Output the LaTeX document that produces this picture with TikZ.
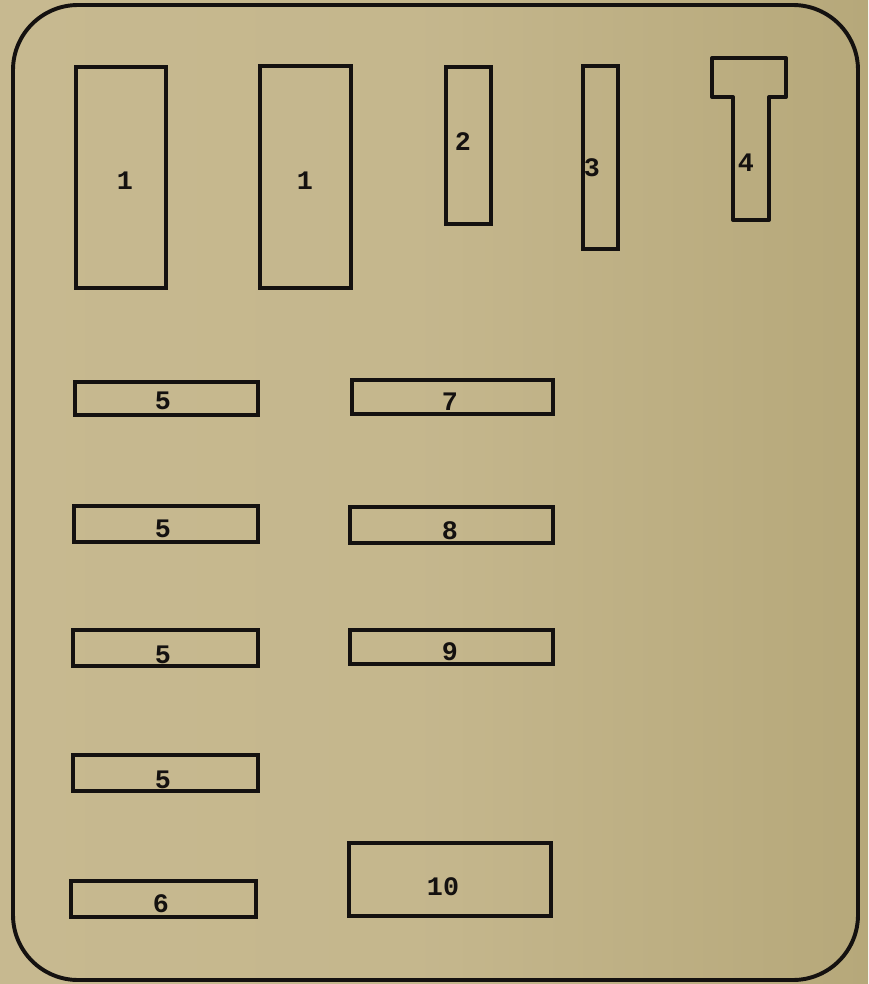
\documentclass[tikz,border=0pt]{standalone}
\usepackage{fontspec}
\setmonofont{Liberation Mono}
\usepackage{xcolor}
\usepackage{tikz}
\usetikzlibrary{fit}
\definecolor{cardTan}{HTML}{C7B990}
\definecolor{cardShade}{HTML}{B6A87A}
\definecolor{cardInk}{HTML}{141110}
\tikzset{
  piece box/.style={draw=cardInk,line width=2.8pt,inner sep=0pt,rectangle},
  piece label/.style={font=\fontsize{19}{22}\selectfont\ttfamily\bfseries,text=cardInk,inner sep=0pt}
}
\begin{document}
\begin{tikzpicture}[x=0.025cm,y=-0.025cm]
\useasboundingbox (0,0) rectangle (868,984);
\shade[left color=cardTan,right color=cardShade,middle color=cardTan!85!cardShade] (0,0) rectangle (868,984);
\draw[draw=cardInk,line width=2.8pt,rounded corners=1.625cm] (13,5) rectangle (858,980);
% tall pieces along the top
\node[piece box,fit={(76,67) (166,288)}] (one left) {};
\node[piece box,fit={(260,66) (351,288)}] (one right) {};
\node[piece box,fit={(446,67) (491,224)}] (two) {};
\node[piece box,fit={(583,66) (618,249)}] (three) {};
\coordinate (tee top left) at (712,58);
\coordinate (tee top right) at (786,58);
\draw[draw=cardInk,line width=2.8pt,line join=round] (tee top left) -- (tee top right) -- (786,97) -- (769,97)
  -- (769,220) -- (733,220) -- (733,97) -- (712,97) -- cycle;
\node[piece label] (one left lbl) at (125,181) {1};
\node[piece label] (one right lbl) at (305,181) {1};
\node[piece label] (two lbl) at (463,142) {2};
\node[piece label] (three lbl) at (592,168) {3};
\node[piece label] (four lbl) at (746,163) {4};
% strips, left column
\node[piece box,fit={(75,382) (258,415)}] (five a) {};
\node[piece box,fit={(74,506) (258,542)}] (five b) {};
\node[piece box,fit={(73,630) (258,666)}] (five c) {};
\node[piece box,fit={(73,755) (258,791)}] (five d) {};
\node[piece box,fit={(71,881) (256,917)}] (six) {};
\node[piece label] (five a lbl) at (163,401) {5};
\node[piece label] (five b lbl) at (163,529) {5};
\node[piece label] (five c lbl) at (163,655) {5};
\node[piece label] (five d lbl) at (163,780) {5};
\node[piece label] (six lbl) at (161,904) {6};
% strips, right column
\node[piece box,fit={(352,380) (553,414)}] (seven) {};
\node[piece box,fit={(350,507) (553,543)}] (eight) {};
\node[piece box,fit={(350,630) (553,664)}] (nine) {};
\node[piece box,fit={(349,843) (551,916)}] (ten) {};
\node[piece label] (seven lbl) at (450,402) {7};
\node[piece label] (eight lbl) at (450,531) {8};
\node[piece label] (nine lbl) at (450,652) {9};
\node[piece label] (ten lbl) at (443,887) {10};
\end{tikzpicture}
\end{document}
